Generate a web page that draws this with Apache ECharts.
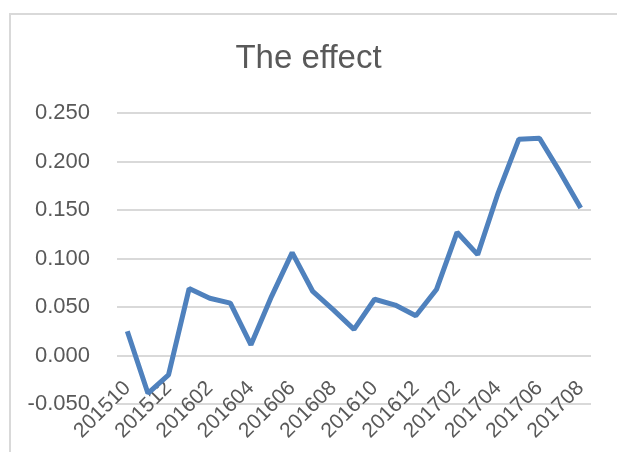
<!DOCTYPE html>
<html lang="en">

<head>
  <meta charset="UTF-8">
  <script src="https://cdnjs.cloudflare.com/ajax/libs/echarts/6.0.0/echarts.min.js"></script>
  <title>The effect</title>
  <style>
    html,
    body,
    main {
      height: 100%;
      width: 100%;
      padding: 0;
      margin: 0;
      background: #fff;
    }
  </style>
</head>

<body>
  <main></main>
</body>
<script>
  const months = ['201510', '201511', '201512', '201601', '201602', '201603', '201604', '201605',
    '201606', '201607', '201608', '201609', '201610', '201611', '201612', '201701', '201702',
    '201703', '201704', '201705', '201706', '201707', '201708']
  const effect = [0.025, -0.039, -0.020, 0.069, 0.059, 0.054, 0.011, 0.061,
    0.106, 0.066, 0.047, 0.027, 0.058, 0.052, 0.041, 0.068, 0.127,
    0.104, 0.168, 0.223, 0.224, 0.189, 0.152]

  const textColor = '#595959'
  const font = 'Liberation Sans'

  const option = {
    animation: false,
    title: {
      text: 'The effect',
      left: 'center',
      top: 37,
      textStyle: {
        color: textColor,
        fontFamily: font,
        fontWeight: 'normal',
        fontSize: 33
      }
    },
    graphic: [
      {
        type: 'rect',
        shape: { x: 10, y: 14, width: 700, height: 600 },
        style: { fill: 'none', stroke: '#d9d9d9', lineWidth: 2 }
      }
    ],
    grid: {
      left: 117,
      right: 26,
      top: 113,
      bottom: 48
    },
    xAxis: {
      type: 'category',
      data: months,
      boundaryGap: true,
      axisLine: { show: false },
      axisTick: { show: false },
      axisLabel: {
        interval: 1,
        rotate: 45,
        margin: -19,
        color: textColor,
        fontFamily: font,
        fontSize: 21
      }
    },
    yAxis: {
      type: 'value',
      min: -0.05,
      max: 0.25,
      interval: 0.05,
      axisLine: { show: false },
      axisTick: { show: false },
      splitLine: { lineStyle: { color: '#d9d9d9', width: 2 } },
      axisLabel: {
        margin: 27,
        color: textColor,
        fontFamily: font,
        fontSize: 22,
        formatter: (v) => v.toFixed(3)
      }
    },
    series: [
      {
        type: 'line',
        name: 'The effect',
        data: effect,
        symbol: 'none',
        lineStyle: { color: '#4f81bd', width: 5 }
      }
    ]
  }

  const ins = echarts.init(document.getElementsByTagName('main')[0])
  ins.setOption(option)
</script>

</html>
